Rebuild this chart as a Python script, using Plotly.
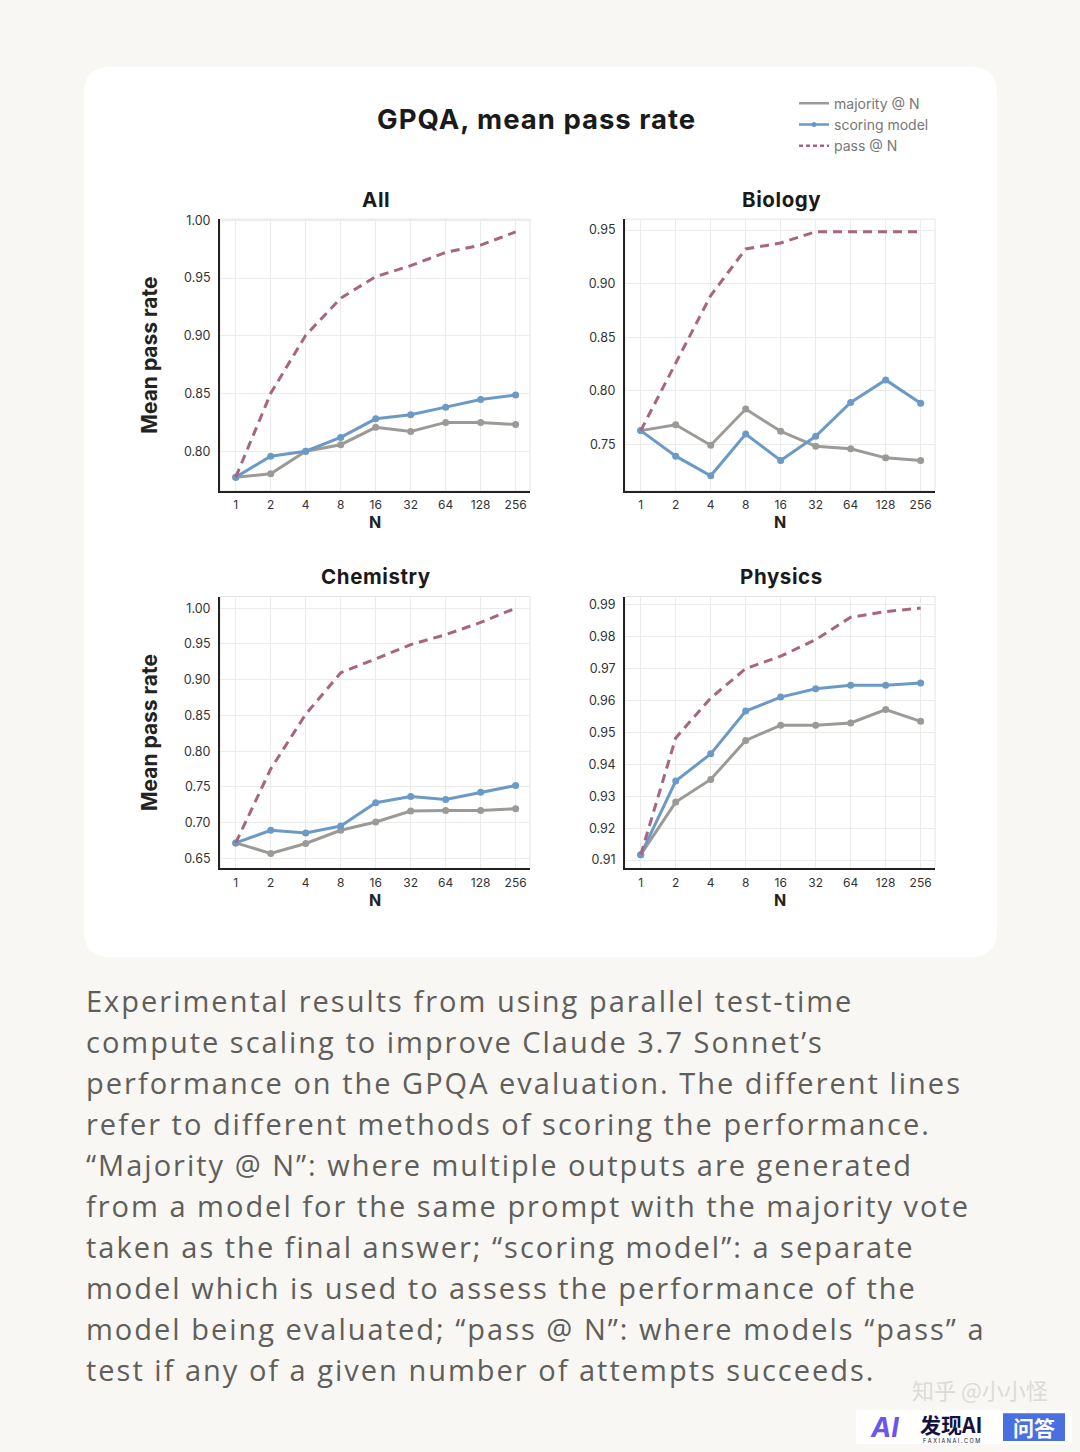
import plotly.graph_objects as go
import numpy as np

PAGE_W, PAGE_H = 1080, 1452
OFF_X, OFF_Y = 8, 8  # default body margin of the page
W, H = PAGE_W - 2 * OFF_X, PAGE_H - 2 * OFF_Y

N_VALUES = [1, 2, 4, 8, 16, 32, 64, 128, 256]
N_LABELS = ["1", "2", "4", "8", "16", "32", "64", "128", "256"]

all_majority = [0.7776, 0.7805, 0.8000, 0.8057, 0.8207, 0.8172, 0.8250, 0.8250, 0.8232]
all_scoring = [0.7776, 0.7957, 0.8000, 0.8120, 0.8281, 0.8316, 0.8382, 0.8448, 0.8488]
all_pass = [0.7776, 0.8502, 0.9004, 0.9326, 0.9512, 0.9607, 0.9722, 0.9785, 0.9900]

bio_majority = [0.7630, 0.7685, 0.7494, 0.7831, 0.7624, 0.7485, 0.7460, 0.7376, 0.7352]
bio_scoring = [0.7630, 0.7392, 0.7209, 0.7599, 0.7352, 0.7577, 0.7893, 0.8103, 0.7886]
bio_pass = [0.7630, 0.8257, 0.8890, 0.9324, 0.9380, 0.9485, 0.9485, 0.9485, 0.9485]

chem_majority = [0.6718, 0.6570, 0.6709, 0.6894, 0.7010, 0.7163, 0.7172, 0.7172, 0.7195]
chem_scoring = [0.6718, 0.6894, 0.6857, 0.6954, 0.7279, 0.7367, 0.7325, 0.7427, 0.7520]
chem_pass = [0.6718, 0.7752, 0.8517, 0.9096, 0.9290, 0.9490, 0.9629, 0.9800, 1.0000]

phys_majority = [0.9117, 0.9282, 0.9353, 0.9475, 0.9523, 0.9523, 0.9530, 0.9572, 0.9535]
phys_scoring = [0.9117, 0.9348, 0.9433, 0.9567, 0.9611, 0.9637, 0.9648, 0.9648, 0.9655]
phys_pass = [0.9117, 0.9483, 0.9608, 0.9700, 0.9739, 0.9791, 0.9861, 0.9879, 0.9890]

panels = [
    ("All", all_majority, all_scoring, all_pass, [0.7656, 1.001], [0.80, 0.85, 0.90, 0.95, 1.00]),
    ("Biology", bio_majority, bio_scoring, bio_pass, [0.7067, 0.9602], [0.75, 0.80, 0.85, 0.90, 0.95]),
    ("Chemistry", chem_majority, chem_scoring, chem_pass, [0.6361, 1.0162],
     [0.65, 0.70, 0.75, 0.80, 0.85, 0.90, 0.95, 1.00]),
    ("Physics", phys_majority, phys_scoring, phys_pass, [0.9074, 0.9926],
     [0.91, 0.92, 0.93, 0.94, 0.95, 0.96, 0.97, 0.98, 0.99]),
]

caption_lines = [
    "Experimental results from using parallel test-time",
    "compute scaling to improve Claude 3.7 Sonnet’s",
    "performance on the GPQA evaluation. The different lines",
    "refer to different methods of scoring the performance.",
    "“Majority @ N”: where multiple outputs are generated",
    "from a model for the same prompt with the majority vote",
    "taken as the final answer; “scoring model”: a separate",
    "model which is used to assess the performance of the",
    "model being evaluated; “pass @ N”: where models “pass” a",
    "test if any of a given number of attempts succeeds.",
]

C_MAJ = "#9b9a96"
C_SCO = "#6b9ac6"
C_PASS = "#a8657f"
BG = "#f8f7f4"
FONT = "Inter, Noto Sans, sans-serif"


def fx(x):
    return (x - OFF_X) / W


def fy(y):
    return 1 - (y - OFF_Y) / H


# page-pixel boxes: left, right, top, bottom
boxes = [(220, 530, 214, 487), (625, 935, 214, 487), (220, 530, 593, 866), (625, 935, 593, 866)]

fig = go.Figure()
layout = {}
xr = [np.log10(1) - 0.45 * np.log10(2), 8.41 * np.log10(2)]

for i, (name, maj, sco, pas, yr, yt) in enumerate(panels):
    k = "" if i == 0 else str(i + 1)
    l, r, t, b = boxes[i]
    fig.add_trace(go.Scatter(x=N_VALUES, y=maj, mode="lines+markers", line=dict(color=C_MAJ, width=3),
                             marker=dict(size=7, color=C_MAJ), xaxis="x" + k, yaxis="y" + k,
                             showlegend=False, hoverinfo="skip"))
    fig.add_trace(go.Scatter(x=N_VALUES, y=sco, mode="lines+markers", line=dict(color=C_SCO, width=3),
                             marker=dict(size=7, color=C_SCO), xaxis="x" + k, yaxis="y" + k,
                             showlegend=False, hoverinfo="skip"))
    fig.add_trace(go.Scatter(x=N_VALUES, y=pas, mode="lines", line=dict(color=C_PASS, width=3, dash="9px,6px"),
                             xaxis="x" + k, yaxis="y" + k, showlegend=False, hoverinfo="skip"))
    layout["xaxis" + k] = dict(
        domain=[fx(l), fx(r)], anchor="y" + k, type="log", range=xr,
        tickvals=N_VALUES, ticktext=N_LABELS, showgrid=True, gridcolor="#ebebea", gridwidth=1,
        showline=True, linecolor="#222222", linewidth=2, ticks="", zeroline=False,
        tickfont=dict(family=FONT, size=12, color="#333333"), ticklabelstandoff=2,
        title=dict(text="<b>N</b>", font=dict(family=FONT, size=16, color="#222222"), standoff=3),
    )
    layout["yaxis" + k] = dict(
        domain=[fy(b), fy(t)], anchor="x" + k, range=yr, tickvals=yt, tickformat=".2f",
        showgrid=True, gridcolor="#ebebea", gridwidth=1, showline=True, linecolor="#222222", linewidth=2,
        ticks="", zeroline=False, tickfont=dict(family=FONT, size=12.5, color="#333333"), ticklabelstandoff=5,
    )
    if i in (0, 2):
        layout["yaxis" + k]["title"] = dict(text="<b>Mean pass rate</b>",
                                            font=dict(family=FONT, size=21, color="#222222"), standoff=20)

# legend-only traces
fig.add_trace(go.Scatter(x=[None], y=[None], mode="lines", line=dict(color=C_MAJ, width=2.5),
                         name="majority @ N"))
fig.add_trace(go.Scatter(x=[None], y=[None], mode="lines+markers", line=dict(color=C_SCO, width=2.5),
                         marker=dict(size=5, color=C_SCO), name="scoring model"))
fig.add_trace(go.Scatter(x=[None], y=[None], mode="lines", line=dict(color=C_PASS, width=2.5, dash="4px,3px"),
                         name="pass @ N"))

shapes = []
# rounded white card
cl, cr, ct, cb, rad = 84, 997, 61, 955, 27
path = (f"M {fx(cl + rad)},{fy(ct)} L {fx(cr - rad)},{fy(ct)} Q {fx(cr)},{fy(ct)} {fx(cr)},{fy(ct + rad)} "
        f"L {fx(cr)},{fy(cb - rad)} Q {fx(cr)},{fy(cb)} {fx(cr - rad)},{fy(cb)} "
        f"L {fx(cl + rad)},{fy(cb)} Q {fx(cl)},{fy(cb)} {fx(cl)},{fy(cb - rad)} "
        f"L {fx(cl)},{fy(ct + rad)} Q {fx(cl)},{fy(ct)} {fx(cl + rad)},{fy(ct)} Z")
shapes.append(dict(type="path", path=path, xref="paper", yref="paper", fillcolor="white",
                   line=dict(width=0), layer="below"))
for i in range(4):
    k = "" if i == 0 else str(i + 1)
    shapes.append(dict(type="rect", xref=f"x{k} domain", yref=f"y{k} domain", x0=0, x1=1, y0=0, y1=1,
                       line=dict(color="#e4e4e2", width=1), layer="below"))

# watermark boxes
shapes.append(dict(type="rect", xref="paper", yref="paper", x0=fx(856), x1=1, y0=0, y1=fy(1410),
                   fillcolor="white", line=dict(width=0)))
shapes.append(dict(type="rect", xref="paper", yref="paper", x0=fx(1003), x1=fx(1065), y0=fy(1441), y1=fy(1413),
                   fillcolor="#4a6fe0", line=dict(width=0)))


def ann(text, x, y, size, color, family=FONT, xanchor="center"):
    return dict(text=text, x=fx(x), y=fy(y), xref="paper", yref="paper", xanchor=xanchor, yanchor="middle",
                showarrow=False, font=dict(family=family, size=size, color=color))


annotations = []
annotations.append(ann('<b><span style="letter-spacing:1px">GPQA, mean pass rate</span></b>', 536, 113, 27.5,
                       "#1a1a1a"))
titles_pos = [(376, 194), (782, 194), (376, 573), (782, 573)]
for (name, *_), (tx, ty) in zip(panels, titles_pos):
    annotations.append(ann(f'<b><span style="letter-spacing:0.6px">{name}</span></b>', tx, ty, 20.5, "#1a1a1a"))
for j, line in enumerate(caption_lines):
    annotations.append(ann(f'<span style="letter-spacing:2px">{line}</span>', 84, 999 + j * 41.1, 29,
                           "#5f5e5a", family="Open Sans, sans-serif", xanchor="left"))
annotations.append(ann("知乎 @小小怪", 1050, 1389, 22, "#dcdbd7", family="Noto Sans CJK SC", xanchor="right"))
annotations.append(ann("<b><i>AI</i></b>", 884, 1427, 27, "#6a56ea", family="Inter"))
annotations.append(ann("<b>发现AI</b>", 951, 1424, 21, "#12123a", family="Noto Sans CJK SC"))
annotations.append(ann("F A X I A N A I . C O M", 951, 1441, 5.5, "#12123a", family="Inter"))
annotations.append(ann("<b>问答</b>", 1034, 1427, 21, "white", family="Noto Sans CJK SC"))

fig.update_layout(
    width=W, height=H, margin=dict(l=0, r=0, t=0, b=0), paper_bgcolor=BG, plot_bgcolor="white",
    shapes=shapes, annotations=annotations,
    legend=dict(x=fx(794), y=fy(82), xanchor="left", yanchor="top", bgcolor="rgba(0,0,0,0)",
                font=dict(family=FONT, size=14, color="#777777"), tracegroupgap=0, itemwidth=30),
    **layout,
)

fig.write_html("out.html", config={"displayModeBar": False},
               post_script="document.body.style.background='%s';" % BG)
